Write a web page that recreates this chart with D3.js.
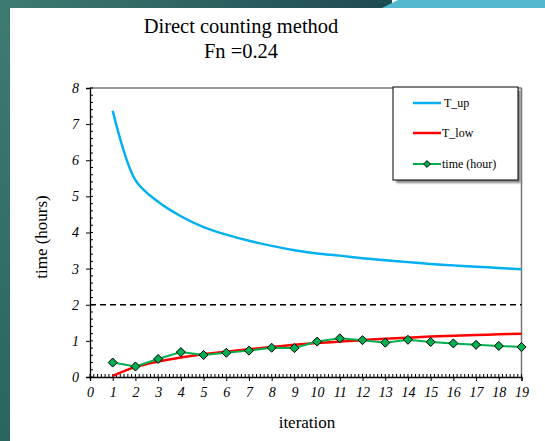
<!DOCTYPE html>
<html><head><meta charset="utf-8">
<script src="https://cdn.jsdelivr.net/npm/d3@7"></script>
<style>body{margin:0;background:#fff;}svg{display:block;}</style>
</head><body>
<script>
const iterations = [1,2,3,4,5,6,7,8,9,10,11,12,13,14,15,16,17,18,19];
const tUp   = [7.37,5.45,4.85,4.45,4.15,3.94,3.77,3.63,3.51,3.42,3.36,3.29,3.23,3.18,3.13,3.09,3.05,3.02,2.98];
const tLow  = [0.03,0.28,0.43,0.54,0.63,0.70,0.77,0.83,0.89,0.94,0.98,1.02,1.06,1.09,1.12,1.14,1.16,1.18,1.20];
const timeHour = [0.40,0.29,0.50,0.69,0.61,0.67,0.73,0.81,0.80,0.98,1.07,1.02,0.95,1.03,0.97,0.93,0.89,0.86,0.83];
const xTicks = d3.range(0,20);
const yTicks = d3.range(0,9);
const threshold = 2;
const legendLabels = ["T_up","T_low","time (hour)"];
const colors = ["#00b0f0","#ff0000","#00b050"];
const FONT = "'Liberation Serif','Times New Roman',serif";

const W=545,H=441;
const svg=d3.select("body").append("svg").attr("width",W).attr("height",H);
const defs=svg.append("defs");
const g1=defs.append("linearGradient").attr("id","lg").attr("x1",0).attr("x2",0).attr("y1",0).attr("y2",1);
g1.append("stop").attr("offset","0%").attr("stop-color","#3e7b71");
g1.append("stop").attr("offset","100%").attr("stop-color","#2c6460");
const g2=defs.append("linearGradient").attr("id","tg").attr("x1",0).attr("x2",1).attr("y1",0).attr("y2",0);
g2.append("stop").attr("offset","0%").attr("stop-color","#3e7b71");
g2.append("stop").attr("offset","100%").attr("stop-color","#1e4a52");
const sh=defs.append("filter").attr("id","sh").attr("x","-10%").attr("y","-10%").attr("width","130%").attr("height","130%");
sh.append("feGaussianBlur").attr("stdDeviation",1.2);

// background frame
svg.append("rect").attr("x",0).attr("y",0).attr("width",W).attr("height",H).attr("fill","#fff");
svg.append("rect").attr("x",0).attr("y",0).attr("width",10).attr("height",H).attr("fill","url(#lg)");
svg.append("rect").attr("x",0).attr("y",0).attr("width",392).attr("height",8).attr("fill","url(#tg)");
svg.append("polygon").attr("points","382,8 398,0 545,0 545,8").attr("fill","#55b9cd");

const x=d3.scaleLinear().domain([0,19]).range([90,521.5]);
const y=d3.scaleLinear().domain([0,8]).range([377,88]);

// title
svg.append("text").attr("x",241).attr("y",33).attr("text-anchor","middle")
  .style("font-family",FONT).attr("font-size",20.5).text("Direct counting method");
svg.append("text").attr("x",241).attr("y",58).attr("text-anchor","middle")
  .style("font-family",FONT).attr("font-size",20.5).text("Fn =0.24");

// frame top and right
svg.append("line").attr("x1",x(0)).attr("x2",x(19)).attr("y1",y(8)).attr("y2",y(8)).attr("stroke","#333").attr("stroke-width",1);
svg.append("line").attr("x1",x(19)).attr("x2",x(19)).attr("y1",y(8)).attr("y2",y(0)).attr("stroke","#777").attr("stroke-width",1.5);

// minor ticks
const gm=svg.append("g").attr("stroke","#000").attr("stroke-width",1);
d3.range(0,8*5+1).forEach(i=>{const v=i/5;gm.append("line").attr("x1",x(0)).attr("x2",x(0)+3).attr("y1",y(v)).attr("y2",y(v));});
d3.range(0,19*6+1).forEach(i=>{const v=i/6;gm.append("line").attr("x1",x(v)).attr("x2",x(v)).attr("y1",y(0)).attr("y2",y(0)-3);});

// axes
const yAx=svg.append("g").attr("transform",`translate(${x(0)},0)`)
  .call(d3.axisLeft(y).tickValues(yTicks).tickSize(4).tickPadding(7).tickFormat(d3.format("d")));
const xAx=svg.append("g").attr("transform",`translate(0,${y(0)})`)
  .call(d3.axisBottom(x).tickValues(xTicks).tickSize(4).tickPadding(6).tickFormat(d3.format("d")));
[yAx,xAx].forEach(a=>{
  a.attr("font-family",null);
  a.select(".domain").attr("stroke","#000").attr("stroke-width",1.3);
  a.selectAll(".tick line").attr("stroke","#000");
  a.selectAll("text").style("font-family",FONT).attr("font-style","italic").attr("font-size",14).attr("fill","#000");
});

// axis titles
svg.append("text").attr("transform","translate(47,237) rotate(-90)").attr("text-anchor","middle")
  .style("font-family",FONT).attr("font-size",17).text("time (hours)");
svg.append("text").attr("x",307).attr("y",428).attr("text-anchor","middle")
  .style("font-family",FONT).attr("font-size",17).text("iteration");

// dashed threshold
svg.append("line").attr("x1",x(0)).attr("x2",x(19)).attr("y1",y(threshold)).attr("y2",y(threshold))
  .attr("stroke","#000").attr("stroke-width",1.6).attr("stroke-dasharray","6,4");

// series
const lineC=d3.line().x((d,i)=>x(iterations[i])).y(d=>y(d)).curve(d3.curveCatmullRom.alpha(0.5));
const lineL=d3.line().x((d,i)=>x(iterations[i])).y(d=>y(d));
svg.append("path").attr("d",lineC(tUp)).attr("fill","none").attr("stroke",colors[0]).attr("stroke-width",2.5);
svg.append("path").attr("d",lineC(tLow)).attr("fill","none").attr("stroke",colors[1]).attr("stroke-width",2.5);
svg.append("path").attr("d",lineL(timeHour)).attr("fill","none").attr("stroke",colors[2]).attr("stroke-width",2);
const diamond=d3.symbol().type(d3.symbolDiamond2).size(52);
svg.selectAll(".mk").data(timeHour).enter().append("path")
  .attr("transform",(d,i)=>`translate(${x(iterations[i])},${y(d)})`)
  .attr("d",diamond).attr("fill",colors[2]).attr("stroke","#000").attr("stroke-width",1);

// legend
const lg=svg.append("g");
lg.append("rect").attr("x",396).attr("y",90).attr("width",125).attr("height",93).attr("fill","#888").attr("filter","url(#sh)");
lg.append("rect").attr("x",393).attr("y",87).attr("width",125).attr("height",93).attr("fill","#fff").attr("stroke","#000").attr("stroke-width",1);
const ly=[103,133,164];
legendLabels.forEach((t,i)=>{
  lg.append("line").attr("x1",413).attr("x2",441).attr("y1",ly[i]).attr("y2",ly[i]).attr("stroke",colors[i]).attr("stroke-width",i==2?2:2.5);
  if(i==2) lg.append("path").attr("transform",`translate(427,${ly[i]})`).attr("d",d3.symbol().type(d3.symbolDiamond2).size(30)).attr("fill",colors[2]).attr("stroke","#000");
  lg.append("text").attr("x",i==0?444:442).attr("y",ly[i]+4).style("font-family",FONT).attr("font-size",12).text(t);
});
</script>
</body></html>
